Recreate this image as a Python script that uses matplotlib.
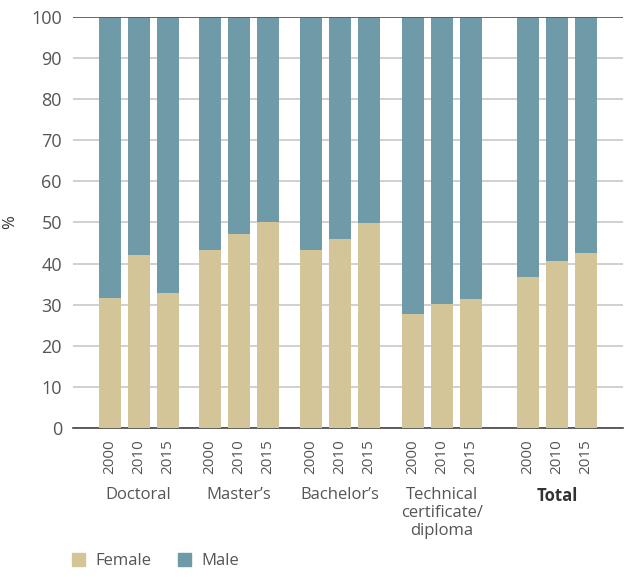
import numpy as np
import matplotlib.pyplot as plt
from matplotlib.patches import Patch

# data
groups = ["Doctoral", "Master’s", "Bachelor’s", "Technical\ncertificate/\ndiploma", "Total"]
years = ["2000", "2010", "2015"]
female = [
    [31.6, 42.1, 32.8],
    [43.3, 47.3, 50.1],
    [43.3, 46.0, 49.8],
    [27.7, 30.2, 31.4],
    [36.7, 40.6, 42.6],
]
male = [[100 - v for v in g] for g in female]

FEMALE_C = "#d3c598"
MALE_C = "#6f9aa8"
TEXT_C = "#555555"

plt.rcParams['font.family'] = ['Open Sans', 'DejaVu Sans']

fig = plt.figure(figsize=(6.31, 5.77), dpi=100)
ax = fig.add_axes([73 / 631, 1 - 428 / 577, 550 / 631, 411 / 577])

# bar positions: groups separated by gaps, wider gap before Total
gaps = [0, 1.45, 1.5, 1.5, 1.97]
pos = []
x = 0
for gi in range(len(groups)):
    if gi > 0:
        x += gaps[gi] - 1
    row = []
    for yi in range(len(years)):
        row.append(x)
        x += 1
    pos.append(row)

for gi in range(len(groups)):
    ax.bar(pos[gi], female[gi], width=0.76, color=FEMALE_C, zorder=3)
    ax.bar(pos[gi], male[gi], bottom=female[gi], width=0.76, color=MALE_C, zorder=3)

ax.set_ylim(0, 100)
ax.set_xlim(-1.26, 17.7)
ax.set_yticks(range(0, 101, 10))
ax.yaxis.grid(True, color="#c8c8c8", linewidth=1.2, zorder=0)
ax.tick_params(axis="y", length=0, labelsize=13, labelcolor=TEXT_C, pad=8)
ax.tick_params(axis="x", length=0)
for s in ["left", "right", "top"]:
    ax.spines[s].set_visible(False)
ax.spines["bottom"].set_color("#444444")
ax.spines["bottom"].set_linewidth(1.2)
ax.axhline(100, color="#555555", linewidth=1.2, zorder=4)
ax.set_ylabel("%", fontsize=12, color="#333333")
ax.yaxis.set_label_coords(-0.1, 0.5)

flat_pos = [p for row in pos for p in row]
ax.set_xticks(flat_pos)
ax.set_xticklabels(years * len(groups), rotation=90, fontsize=11, color=TEXT_C)
ax.tick_params(axis="x", pad=8)

for gi, g in enumerate(groups):
    cx = np.mean(pos[gi])
    ax.text(cx, -14.4, g, ha="center", va="top", fontsize=12, color=TEXT_C if g != "Total" else "#333333",
            fontweight="bold" if g == "Total" else "normal", linespacing=1.15,
            transform=ax.transData, clip_on=False)

handles = [Patch(color=FEMALE_C, label="Female"), Patch(color=MALE_C, label="Male")]
leg = fig.legend(handles=handles, loc="lower left", bbox_to_anchor=(0.09, -0.012), ncol=2, frameon=False,
                 fontsize=12, handlelength=0.8, handleheight=0.8, columnspacing=1.6, handletextpad=0.6)
for t in leg.get_texts():
    t.set_color(TEXT_C)

fig.savefig("out.png", dpi=100)
